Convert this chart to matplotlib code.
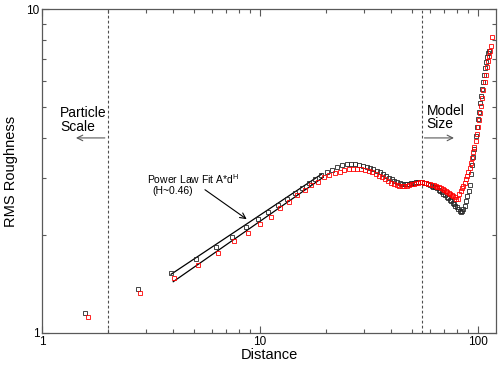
import numpy as np
import matplotlib
matplotlib.use('Agg')
import matplotlib.pyplot as plt
from matplotlib.ticker import FixedLocator, NullFormatter, FixedFormatter, LogLocator

plt.rcParams['font.family'] = ['Liberation Sans', 'DejaVu Sans']
plt.rcParams['mathtext.fontset'] = 'custom'
plt.rcParams['mathtext.rm'] = 'Liberation Sans'

# black series (distance, rms roughness)
dist_k = [1.58, 2.75, 3.92, 5.09, 6.26, 7.43, 8.60, 9.77, 10.94, 12.11,
          13.28, 14.45, 15.62, 16.79, 17.96, 19.13, 20.30, 21.47, 22.64, 23.81,
          24.98, 26.15, 27.32, 28.49, 29.66, 30.83, 32.00, 33.17, 34.34, 35.51,
          36.68, 37.85, 39.02, 40.19, 41.36, 42.53, 43.70, 44.87, 46.04, 47.21,
          48.38, 49.55, 50.72, 51.89, 53.06, 54.23, 55.40, 56.57, 57.74, 58.91,
          60.08, 61.25, 62.42, 63.59, 64.76, 65.93, 67.10, 68.27, 69.44, 70.61,
          71.78, 72.95, 74.12, 75.29, 76.46, 77.63, 78.80, 79.97, 81.14, 82.31,
          83.48, 84.65, 85.82, 86.99, 88.16, 89.33, 90.50, 91.67, 92.84, 94.01,
          95.18, 96.35, 97.52, 98.69, 99.86, 101.03, 102.20, 103.37, 104.54, 105.71,
          106.88, 108.05, 109.22, 110.39, 111.56, 112.73]
rms_k = [1.15, 1.367, 1.535, 1.689, 1.838, 1.978, 2.120, 2.248, 2.368, 2.492,
         2.592, 2.699, 2.803, 2.897, 2.988, 3.074, 3.140, 3.192, 3.261, 3.300,
         3.324, 3.324, 3.317, 3.307, 3.284, 3.261, 3.237, 3.207, 3.170, 3.130,
         3.090, 3.050, 3.010, 2.980, 2.950, 2.920, 2.900, 2.885, 2.880, 2.880,
         2.885, 2.895, 2.905, 2.915, 2.920, 2.925, 2.920, 2.910, 2.900, 2.885,
         2.870, 2.850, 2.830, 2.815, 2.797, 2.770, 2.745, 2.715, 2.690, 2.660,
         2.634, 2.610, 2.580, 2.550, 2.520, 2.495, 2.470, 2.440, 2.410, 2.380,
         2.360, 2.380, 2.410, 2.470, 2.550, 2.640, 2.750, 2.870, 3.100, 3.310,
         3.500, 3.710, 4.050, 4.320, 4.560, 4.820, 5.130, 5.400, 5.680, 5.970,
         6.270, 6.570, 6.870, 7.120, 7.320, 7.400]

# red series
dist_r = [1.62, 2.82, 4.02, 5.22, 6.42, 7.62, 8.82, 10.01, 11.21, 12.41,
          13.61, 14.81, 16.01, 17.21, 18.41, 19.61, 20.81, 22.01, 23.21, 24.41,
          25.6, 26.8, 28.0, 29.2, 30.4, 31.6, 32.8, 34.0, 35.2, 36.4,
          37.6, 38.8, 40.0, 41.2, 42.4, 43.6, 44.8, 46.0, 47.2, 48.4,
          49.6, 50.8, 52.0, 53.2, 54.4, 55.6, 56.8, 58.0, 59.2, 60.4,
          61.6, 62.8, 64.0, 65.2, 66.4, 67.6, 68.8, 70.0, 71.2, 72.4,
          73.6, 74.8, 76.0, 77.2, 78.4, 79.6, 80.8, 82.0, 83.2, 84.4,
          85.6, 86.8, 88.0, 89.2, 90.4, 91.6, 92.8, 94.0, 95.2, 96.4,
          97.6, 98.8, 100.0, 101.2, 102.4, 103.6, 104.8, 106.0, 107.2, 108.4,
          109.6, 110.8, 112.0, 113.2, 114.4, 115.6]
rms_r = [1.12, 1.329, 1.481, 1.625, 1.769, 1.919, 2.040, 2.170, 2.286, 2.423,
         2.542, 2.666, 2.769, 2.857, 2.931, 3.024, 3.080, 3.120, 3.150, 3.180,
         3.200, 3.207, 3.207, 3.200, 3.185, 3.160, 3.135, 3.100, 3.060, 3.020,
         2.980, 2.940, 2.910, 2.880, 2.860, 2.850, 2.845, 2.845, 2.850, 2.860,
         2.875, 2.890, 2.900, 2.910, 2.915, 2.915, 2.910, 2.900, 2.890, 2.880,
         2.870, 2.855, 2.840, 2.830, 2.820, 2.800, 2.785, 2.770, 2.750, 2.730,
         2.710, 2.690, 2.670, 2.650, 2.620, 2.600, 2.590, 2.680, 2.750, 2.800,
         2.850, 2.910, 2.980, 3.060, 3.150, 3.240, 3.350, 3.480, 3.610, 3.760,
         3.920, 4.110, 4.330, 4.540, 4.780, 5.030, 5.310, 5.640, 5.950, 6.240,
         6.600, 6.900, 7.180, 7.400, 7.700, 8.210]

# power law fit segments (end points)
fit_x_k = [3.91, 19.2]
fit_y_k = [1.518, 3.095]
fit_x_r = [4.00, 19.5]
fit_y_r = [1.440, 3.024]

particle_scale = 2.0
model_size = 55.2

fig = plt.figure(figsize=(5.0, 3.66), dpi=100)
ax = fig.add_axes([0.084, 0.0902, 0.908, 0.8852])
ax.set_xscale('log')
ax.set_yscale('log')
ax.set_xlim(1, 121)
ax.set_ylim(1, 10)

FRAME = '0.35'
ax.axvline(particle_scale, color='0.3', lw=0.8, ls=(0, (2.5, 2)))
ax.axvline(model_size, color='0.3', lw=0.8, ls=(0, (2.5, 2)))

ax.plot(fit_x_k, fit_y_k, color='black', lw=0.9)
ax.plot(fit_x_r, fit_y_r, color='black', lw=0.9)

ax.plot(dist_k, rms_k, ls='none', marker='s', ms=2.8, mfc='none', mec='0.15', mew=0.6)
ax.plot(dist_r, rms_r, ls='none', marker='s', ms=2.8, mfc='none', mec='red', mew=0.6)

ax.annotate('', xy=(8.9, 2.22), xytext=(5.46, 2.80),
            arrowprops=dict(arrowstyle='->', color='black', lw=0.8))
ax.text(3.02, 2.98, 'Power Law Fit A*d$^{\\mathrm{H}}$', fontsize=7.5, va='center', ha='left')
ax.text(3.22, 2.74, '(H~0.46)', fontsize=7.5, va='center', ha='left')

ax.annotate('', xy=(1.39, 4.0), xytext=(particle_scale, 4.0),
            arrowprops=dict(arrowstyle='->', color='0.35', lw=0.8))
ax.text(1.21, 4.78, 'Particle', fontsize=10, va='center', ha='left')
ax.text(1.21, 4.33, 'Scale', fontsize=10, va='center', ha='left')

ax.annotate('', xy=(79.9, 4.0), xytext=(model_size, 4.0),
            arrowprops=dict(arrowstyle='->', color='0.35', lw=0.8))
ax.text(58.2, 4.86, 'Model', fontsize=10, va='center', ha='left')
ax.text(58.2, 4.42, 'Size', fontsize=10, va='center', ha='left')

ax.xaxis.set_major_locator(FixedLocator([1, 10, 100]))
ax.xaxis.set_major_formatter(FixedFormatter(['1', '10', '100']))
ax.xaxis.set_minor_locator(LogLocator(base=10, subs=np.arange(2, 10)))
ax.xaxis.set_minor_formatter(NullFormatter())
ax.yaxis.set_major_locator(FixedLocator([1, 10]))
ax.yaxis.set_major_formatter(FixedFormatter(['1', '10']))
ax.yaxis.set_minor_locator(LogLocator(base=10, subs=np.arange(2, 10)))
ax.yaxis.set_minor_formatter(NullFormatter())

ax.tick_params(which='both', direction='in', top=True, right=True, color=FRAME, width=0.8)
ax.tick_params(which='major', length=5, labelsize=8.5, pad=2)
ax.tick_params(which='minor', length=2.7)
for sp in ax.spines.values():
    sp.set_color(FRAME)
    sp.set_linewidth(0.9)

ax.set_xlabel('Distance', fontsize=10.5, labelpad=0)
ax.set_ylabel('RMS Roughness', fontsize=10.5, labelpad=6)

fig.savefig('out.png', dpi=100)
plt.close(fig)
